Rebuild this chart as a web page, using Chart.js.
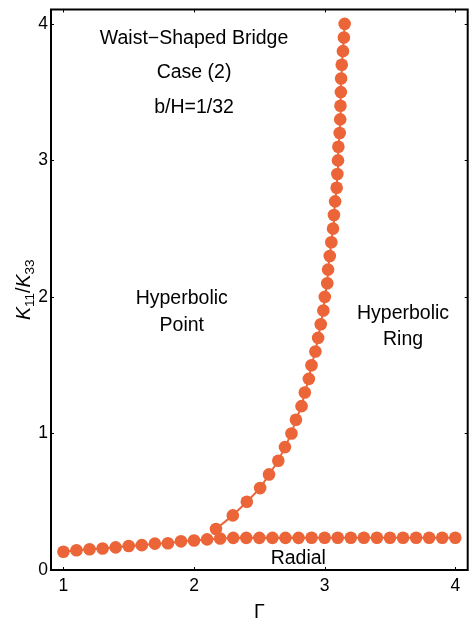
<!DOCTYPE html>
<html>
<head>
<meta charset="utf-8">
<script src="https://cdn.jsdelivr.net/npm/chart.js@4/dist/chart.umd.min.js"></script>
<style>
  html, body { margin: 0; padding: 0; background: #ffffff; }
  #wrap { width: 474px; height: 623px; }
</style>
</head>
<body>
<div id="wrap"><canvas id="c" width="474" height="623"></canvas></div>
<script>
// Radial branch: K11/K33 along Γ = 1 … 4
const radialGamma = [1.0, 1.1, 1.2, 1.3, 1.4, 1.5, 1.6, 1.7, 1.8, 1.9, 2.0,
                     2.1, 2.2, 2.3, 2.4, 2.5, 2.6, 2.7, 2.8, 2.9, 3.0,
                     3.1, 3.2, 3.3, 3.4, 3.5, 3.6, 3.7, 3.8, 3.9, 4.0];
const radialRatio = [0.134, 0.145, 0.152, 0.157, 0.166, 0.176, 0.182, 0.193, 0.196, 0.210, 0.216,
                     0.224, 0.231, 0.235, 0.235, 0.235, 0.235, 0.235, 0.235, 0.236, 0.236,
                     0.236, 0.236, 0.236, 0.236, 0.236, 0.236, 0.236, 0.236, 0.236, 0.236];

// Boundary between hyperbolic point and hyperbolic ring
const boundaryGamma = [2.168, 2.297, 2.404, 2.506, 2.574, 2.645, 2.696, 2.746, 2.780, 2.823,
                       2.848, 2.879, 2.899, 2.929, 2.950, 2.970, 2.990, 3.001, 3.020, 3.026,
                       3.039, 3.051, 3.064, 3.071, 3.080, 3.092, 3.097, 3.102, 3.105, 3.115,
                       3.119, 3.121, 3.124, 3.126, 3.131, 3.140, 3.147, 3.153];
const boundaryRatio = [0.3, 0.4, 0.5, 0.6, 0.7, 0.8, 0.9, 1.0, 1.1, 1.2,
                       1.3, 1.4, 1.5, 1.6, 1.7, 1.8, 1.9, 2.0, 2.1, 2.2,
                       2.3, 2.4, 2.5, 2.6, 2.7, 2.8, 2.9, 3.0, 3.1, 3.2,
                       3.3, 3.4, 3.5, 3.6, 3.7, 3.8, 3.9, 4.0];

const xTickValues = [1, 2, 3, 4];
const yTickValues = [0, 1, 2, 3, 4];

// Region labels, placed in data coordinates (y = text baseline)
const regionNotes = [
  { text: 'Waist\u2212Shaped Bridge', x: 2.0,  y: 3.851 },
  { text: 'Case (2)',                x: 2.0,  y: 3.600 },
  { text: 'b/H=1/32',                x: 2.0,  y: 3.350 },
  { text: 'Hyperbolic',              x: 1.906, y: 1.949 },
  { text: 'Point',                   x: 1.906, y: 1.753 },
  { text: 'Hyperbolic',              x: 3.60,  y: 1.841 },
  { text: 'Ring',                    x: 3.60,  y: 1.646 },
  { text: 'Radial',                  x: 2.798, y: 0.044 }
];

const ORANGE = '#EB6538';
const FONT = '"Liberation Sans", Arial, Helvetica, sans-serif';

const toPoints = (xs, ys) => xs.map((x, i) => ({ x: x, y: ys[i] }));

// Closed black frame with short inward tick marks
const framePlugin = {
  id: 'frame',
  afterDatasetsDraw(chart) {
    const { ctx, chartArea: a, scales } = chart;
    ctx.save();
    ctx.strokeStyle = '#000';
    ctx.lineWidth = 2;
    ctx.strokeRect(a.left, a.top, a.right - a.left, a.bottom - a.top);
    ctx.lineWidth = 1;
    ctx.beginPath();
    xTickValues.forEach(v => {
      const px = Math.round(scales.x.getPixelForValue(v)) + 0.5;
      ctx.moveTo(px, a.bottom); ctx.lineTo(px, a.bottom - 3);
      ctx.moveTo(px, a.top); ctx.lineTo(px, a.top + 3);
    });
    yTickValues.forEach(v => {
      const py = Math.round(scales.y.getPixelForValue(v)) + 0.5;
      ctx.moveTo(a.left, py); ctx.lineTo(a.left + 3, py);
      ctx.moveTo(a.right, py); ctx.lineTo(a.right - 3, py);
    });
    ctx.stroke();
    ctx.restore();
  }
};

// Region labels and axis titles (y title needs italic K with subscripts)
const textPlugin = {
  id: 'texts',
  afterDraw(chart) {
    const { ctx, chartArea: a, scales } = chart;
    ctx.save();
    ctx.fillStyle = '#000';
    ctx.font = '19.5px ' + FONT;
    ctx.textAlign = 'center';
    ctx.textBaseline = 'alphabetic';
    regionNotes.forEach(n => {
      ctx.fillText(n.text, scales.x.getPixelForValue(n.x), scales.y.getPixelForValue(n.y));
    });

    // x-axis title
    ctx.fillText('\u0393', (a.left + a.right) / 2, a.bottom + 48);

    // y-axis title: K11/K33, rotated
    const parts = [
      { t: 'K',  f: 'italic 19.5px ' + FONT, dy: 0 },
      { t: '11', f: '13.5px ' + FONT,        dy: 4 },
      { t: '/',  f: '19.5px ' + FONT,        dy: 0 },
      { t: 'K',  f: 'italic 19.5px ' + FONT, dy: 0 },
      { t: '33', f: '13.5px ' + FONT,        dy: 4 }
    ];
    let total = 0;
    parts.forEach(p => { ctx.font = p.f; p.w = ctx.measureText(p.t).width; total += p.w; });
    ctx.translate(a.left - 21, (a.top + a.bottom) / 2);
    ctx.rotate(-Math.PI / 2);
    ctx.textAlign = 'left';
    let cx = -total / 2;
    parts.forEach(p => {
      ctx.font = p.f;
      ctx.fillText(p.t, cx, p.dy);
      cx += p.w;
    });
    ctx.restore();
  }
};

const tickFont = { family: FONT, size: 17.5 };

new Chart(document.getElementById('c'), {
  type: 'scatter',
  data: {
    datasets: [
      {
        label: 'boundary',
        data: toPoints(boundaryGamma, boundaryRatio),
        showLine: true,
        borderColor: ORANGE,
        borderWidth: 2,
        backgroundColor: ORANGE,
        pointBackgroundColor: ORANGE,
        pointBorderWidth: 0,
        pointRadius: 6.3,
        tension: 0
      },
      {
        label: 'radial',
        data: toPoints(radialGamma, radialRatio),
        showLine: true,
        borderColor: ORANGE,
        borderWidth: 2,
        backgroundColor: ORANGE,
        pointBackgroundColor: ORANGE,
        pointBorderWidth: 0,
        pointRadius: 6.3,
        tension: 0
      }
    ]
  },
  options: {
    responsive: false,
    animation: false,
    devicePixelRatio: 1,
    layout: { padding: { top: 9.5, right: 3, left: 0, bottom: 0 } },
    plugins: { legend: { display: false }, tooltip: { enabled: false } },
    scales: {
      x: {
        type: 'linear',
        min: 0.905,
        max: 4.095,
        grid: { display: false, drawTicks: false },
        border: { display: false },
        ticks: { font: tickFont, color: '#000', padding: 6 },
        afterBuildTicks: s => { s.ticks = xTickValues.map(v => ({ value: v })); },
        afterFit: s => { s.height = 53; s.paddingLeft = 0; s.paddingRight = 0; }
      },
      y: {
        type: 'linear',
        min: 0,
        max: 4.105,
        grid: { display: false, drawTicks: false },
        border: { display: false },
        ticks: { font: tickFont, color: '#000', padding: 3 },
        afterBuildTicks: s => { s.ticks = yTickValues.map(v => ({ value: v })); },
        afterFit: s => { s.width = 51; s.paddingTop = 0; s.paddingBottom = 0; }
      }
    }
  },
  plugins: [framePlugin, textPlugin]
});
</script>
</body>
</html>
